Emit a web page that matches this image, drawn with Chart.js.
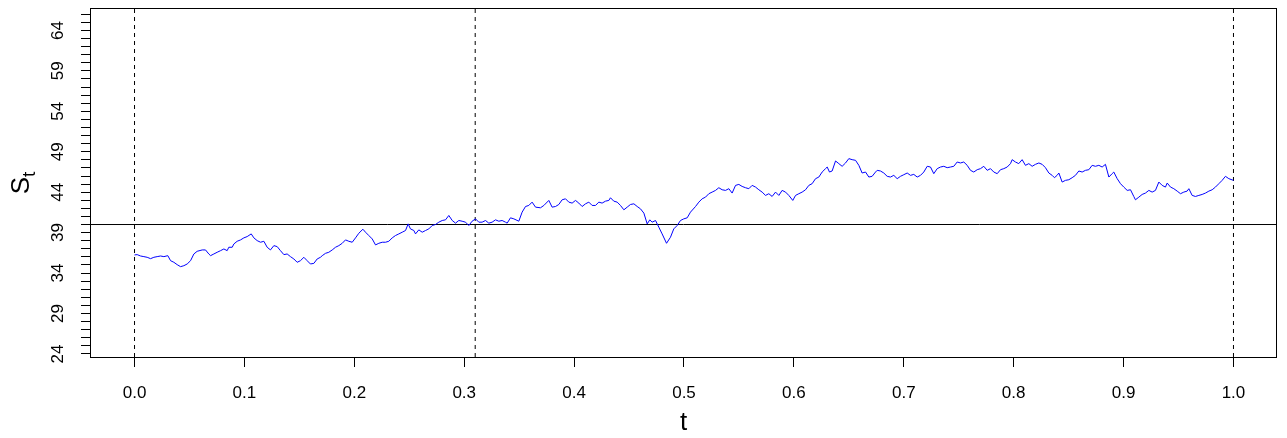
<!DOCTYPE html>
<html><head><meta charset="utf-8">
<script src="https://cdn.jsdelivr.net/npm/chart.js@4/dist/chart.umd.min.js"></script>
<style>html,body{margin:0;padding:0;background:#fff;}canvas{display:block;}</style>
</head><body>
<canvas id="c" width="1287" height="438"></canvas>
<script>
// ---- data ----
const times = [
0.0000,0.0024,0.0055,0.0085,0.0115,0.0146,0.0176,0.0206,0.0237,0.0267,0.0303,0.0328,0.0358,0.0388,0.0419,0.0449,0.0479,0.0510,0.0540,0.0570,0.0616,0.0646,0.0676,0.0692,0.0722,0.0752,0.0783,0.0813,0.0843,0.0858,0.0889,0.0904,0.0934,0.0965,0.0995,0.1025,0.1062,0.1086,0.1116,0.1147,0.1177,0.1207,0.1237,0.1268,0.1298,0.1328,0.1359,0.1389,0.1419,0.1450,0.1480,0.1510,0.1541,0.1571,0.1601,0.1632,0.1662,0.1692,
0.1708,0.1738,0.1768,0.1799,0.1829,0.1859,0.1890,0.1920,0.1950,0.1981,0.2011,0.2041,0.2078,0.2102,0.2132,0.2163,0.2193,0.2223,0.2254,0.2284,0.2314,0.2345,0.2375,0.2405,0.2436,0.2466,0.2490,0.2511,0.2542,0.2557,0.2587,0.2618,0.2648,0.2678,0.2709,0.2739,0.2769,0.2800,0.2830,0.2860,0.2891,0.2921,0.2951,0.2981,0.3012,0.3042,0.3072,0.3103,0.3133,0.3163,0.3194,0.3224,0.3254,0.3285,0.3315,0.3345,0.3376,
0.3391,0.3421,0.3452,0.3497,0.3527,0.3558,0.3588,0.3618,0.3649,0.3694,0.3725,0.3770,0.3800,0.3831,0.3861,0.3891,0.3922,0.3952,0.3982,0.4013,0.4043,0.4073,0.4104,0.4134,0.4164,0.4195,0.4225,0.4255,0.4286,0.4316,0.4331,0.4361,0.4392,0.4422,0.4453,0.4483,0.4513,0.4544,0.4574,0.4604,0.4635,0.4665,0.4689,0.4710,0.4741,0.4771,0.4801,0.4841,0.4877,0.4907,0.4938,0.4968,0.4998,0.5029,0.5059,
0.5105,0.5135,0.5165,0.5196,0.5226,0.5256,0.5287,0.5317,0.5347,0.5378,0.5408,0.5438,0.5469,0.5499,0.5529,0.5560,0.5590,0.5620,0.5651,0.5681,0.5711,0.5742,0.5772,0.5802,0.5833,0.5863,0.5893,0.5924,0.5954,0.5990,0.6015,0.6045,0.6075,0.6106,0.6136,0.6166,0.6197,0.6227,0.6257,0.6288,0.6303,0.6324,0.6348,0.6379,0.6409,0.6439,0.6470,0.6500,0.6530,0.6561,0.6591,0.6621,0.6652,0.6682,0.6712,0.6743,
0.6758,0.6788,0.6818,0.6849,0.6879,0.6909,0.6940,0.6970,0.7000,0.7031,0.7061,0.7091,0.7122,0.7152,0.7182,0.7213,0.7243,0.7273,0.7304,0.7334,0.7364,0.7395,0.7425,0.7455,0.7486,0.7516,0.7546,0.7577,0.7607,0.7637,0.7668,0.7698,0.7728,0.7759,0.7789,0.7819,0.7850,0.7880,0.7910,0.7941,0.7971,0.7986,0.8016,0.8046,0.8077,0.8107,0.8138,0.8168,0.8198,0.8229,0.8259,0.8289,0.8320,0.8350,0.8371,0.8395,
0.8411,0.8441,0.8471,0.8502,0.8532,0.8562,0.8593,0.8623,0.8653,0.8684,0.8714,0.8744,0.8775,0.8805,0.8835,0.8866,0.8896,0.8911,0.8942,0.8972,0.9002,0.9033,0.9063,0.9093,0.9108,0.9139,0.9169,0.9199,0.9230,0.9260,0.9290,0.9321,0.9351,0.9381,0.9397,0.9427,0.9457,0.9488,0.9518,0.9548,0.9578,0.9594,0.9624,0.9654,0.9685,0.9715,0.9745,0.9776,0.9806,0.9836,0.9867,0.9897,0.9927,0.9958,1.0000
];
const prices = [
36.24,36.28,36.11,36.03,35.95,35.78,35.95,36.03,36.11,36.03,36.15,35.53,35.33,35.04,34.79,34.91,35.12,35.53,36.36,36.69,36.86,36.86,36.36,36.15,36.36,36.57,36.77,36.98,36.77,37.19,37.19,37.60,37.93,38.10,38.35,38.51,38.84,38.35,38.01,37.81,37.93,37.19,36.86,37.39,37.27,36.77,36.28,36.36,36.03,35.74,35.33,35.53,35.95,35.53,35.12,35.20,35.74,35.95,
36.15,36.44,36.57,36.86,37.19,37.39,37.68,38.10,37.93,37.81,38.35,38.92,39.42,39.05,38.64,38.22,37.48,37.68,37.81,37.81,37.93,38.35,38.64,38.84,39.05,39.26,40.08,39.46,39.26,38.84,39.34,39.05,39.26,39.46,39.88,40.00,40.29,40.50,40.58,41.12,40.50,40.17,40.50,40.41,40.29,39.88,40.41,40.70,40.29,40.29,40.50,40.17,40.29,40.58,40.41,40.50,40.29,
40.17,40.83,40.70,40.41,41.53,42.23,42.36,42.77,42.15,42.07,42.36,42.98,42.15,42.23,42.48,43.06,43.18,42.77,42.65,42.98,42.65,42.23,42.56,42.77,42.36,42.36,42.77,42.65,42.89,42.98,43.31,42.89,42.77,42.36,41.82,42.15,42.48,42.56,42.23,41.94,41.41,40.08,40.58,40.29,40.50,39.67,38.84,37.68,38.43,39.46,39.88,40.50,40.70,40.83,41.53,
42.23,42.77,43.18,43.39,43.81,44.01,44.22,44.55,44.30,44.22,44.43,43.89,44.84,44.96,44.71,44.55,44.43,44.84,44.63,44.30,44.01,43.60,43.81,43.47,44.01,43.60,44.22,44.01,43.60,42.98,43.60,43.81,44.01,44.30,44.84,45.05,45.67,45.87,46.49,46.91,47.11,46.49,46.62,47.86,47.53,47.20,47.61,48.15,48.02,47.94,47.32,46.37,46.49,45.87,45.96,46.49,
46.70,46.62,46.37,45.96,45.87,46.08,45.67,45.96,46.16,46.37,46.08,46.20,45.87,46.08,46.49,47.20,47.11,46.29,46.91,47.11,47.20,47.03,47.11,47.20,47.73,47.61,47.73,47.32,46.70,46.49,46.78,46.91,47.20,46.70,46.91,46.49,46.29,46.78,46.91,47.11,47.53,48.02,47.73,47.53,48.02,47.32,47.53,47.20,47.44,47.61,47.44,47.03,46.37,46.08,45.79,46.08,
46.37,45.25,45.46,45.54,45.79,46.08,46.62,46.49,46.70,46.78,47.32,47.20,47.32,47.11,47.44,45.87,46.29,46.49,45.67,45.05,44.63,44.22,44.30,43.47,43.06,43.39,43.72,43.89,44.22,44.01,44.22,45.25,44.84,44.63,45.13,44.63,44.43,44.13,43.81,44.01,44.13,44.43,43.60,43.47,43.60,43.72,43.89,44.13,44.30,44.63,45.05,45.46,45.96,45.67,45.46
];
const strikeLevel = 40;                 // horizontal reference line
const markerTimes = [0, 0.31, 1.0];     // dashed vertical lines
const xTickValues = [0,0.1,0.2,0.3,0.4,0.5,0.6,0.7,0.8,0.9,1.0];
const yTickValues = [24,25,26,27,28,29,30,31,32,33,34,35,36,37,38,39,40,41,42,43,44,45,46,47,48,49,50,51,52,53,54,55,56,57,58,59,60,61,62,63,64,65,66];
const yLabelValues = [24,29,34,39,44,49,54,59,64];
const xRange = [-0.0396, 1.0387];
const yRange = [23.62, 66.65];

// ---- chart ----
const FONT = "'Liberation Sans', Arial, Helvetica, sans-serif";
const n = Math.min(times.length, prices.length);
const pathData = [];
for (let i = 0; i < n; i++) pathData.push({x: times[i], y: prices[i]});

const datasets = [
  {data: pathData, borderColor: '#0000ff', borderWidth: 1, pointRadius: 0, tension: 0},
  {data: [{x: xRange[0], y: strikeLevel}, {x: xRange[1], y: strikeLevel}], borderColor: '#000', borderWidth: 1, pointRadius: 0},
  ...markerTimes.map(t => ({data: [{x: t, y: yRange[0]}, {x: t, y: yRange[1]}], borderColor: '#000', borderWidth: 1, borderDash: [4, 4], pointRadius: 0}))
];

const boxPlugin = {
  id: 'box',
  afterDraw(chart) {
    const {ctx, chartArea: a} = chart;
    ctx.save();
    ctx.strokeStyle = '#000'; ctx.lineWidth = 1;
    ctx.strokeRect(Math.round(a.left) - 0.5, Math.round(a.top) - 0.5, Math.round(a.right - a.left) + 1, Math.round(a.bottom - a.top) + 1);
    ctx.restore();
  }
};
const yTitlePlugin = {
  id: 'yTitle',
  afterDraw(chart) {
    const {ctx, chartArea: a} = chart;
    const cy = (a.top + a.bottom) / 2;
    ctx.save();
    ctx.translate(20, cy);
    ctx.rotate(-Math.PI / 2);
    ctx.fillStyle = '#000';
    ctx.textBaseline = 'alphabetic';
    const big = '26px ' + FONT, small = '19px ' + FONT;
    ctx.font = big; const wS = ctx.measureText('S').width;
    ctx.font = small; const wT = ctx.measureText('t').width;
    const x0 = -(wS + wT) / 2;
    ctx.font = big; ctx.fillText('S', x0, 9);
    ctx.font = small; ctx.fillText('t', x0 + wS, 15);
    ctx.restore();
  }
};

const gridOpts = {drawOnChartArea: false, drawTicks: true, tickLength: 10, tickColor: '#000', tickWidth: 1};
const noPad = s => { s.paddingTop = 0; s.paddingBottom = 0; s.paddingLeft = 0; s.paddingRight = 0; };

new Chart(document.getElementById('c'), {
  type: 'line',
  data: {datasets},
  options: {
    responsive: false, animation: false, devicePixelRatio: 1,
    plugins: {legend: {display: false}, tooltip: {enabled: false}},
    layout: {padding: {top: 9, right: 11, left: 0, bottom: 0}},
    scales: {
      x: {
        type: 'linear', min: xRange[0], max: xRange[1],
        afterBuildTicks: s => { s.ticks = xTickValues.map(v => ({value: v})); },
        afterFit: s => { s.height = 81; noPad(s); },
        grid: gridOpts, border: {display: false},
        ticks: {autoSkip: false, minRotation: 0, maxRotation: 0, padding: 16, color: '#000',
                font: {family: FONT, size: 17}, callback: v => Number(v).toFixed(1)},
        title: {display: true, text: 't', color: '#000', font: {family: FONT, size: 26}, padding: {top: 0, bottom: 0}}
      },
      y: {
        type: 'linear', min: yRange[0], max: yRange[1],
        afterBuildTicks: s => { s.ticks = yTickValues.map(v => ({value: v})); },
        afterFit: s => { s.width = 91; noPad(s); },
        grid: gridOpts, border: {display: false},
        ticks: {autoSkip: false, minRotation: 90, maxRotation: 90, crossAlign: 'center', padding: 13, color: '#000',
                font: {family: FONT, size: 17},
                callback: v => yLabelValues.includes(v) ? String(v) : ''}
      }
    }
  },
  plugins: [boxPlugin, yTitlePlugin]
});
</script>
</body></html>
